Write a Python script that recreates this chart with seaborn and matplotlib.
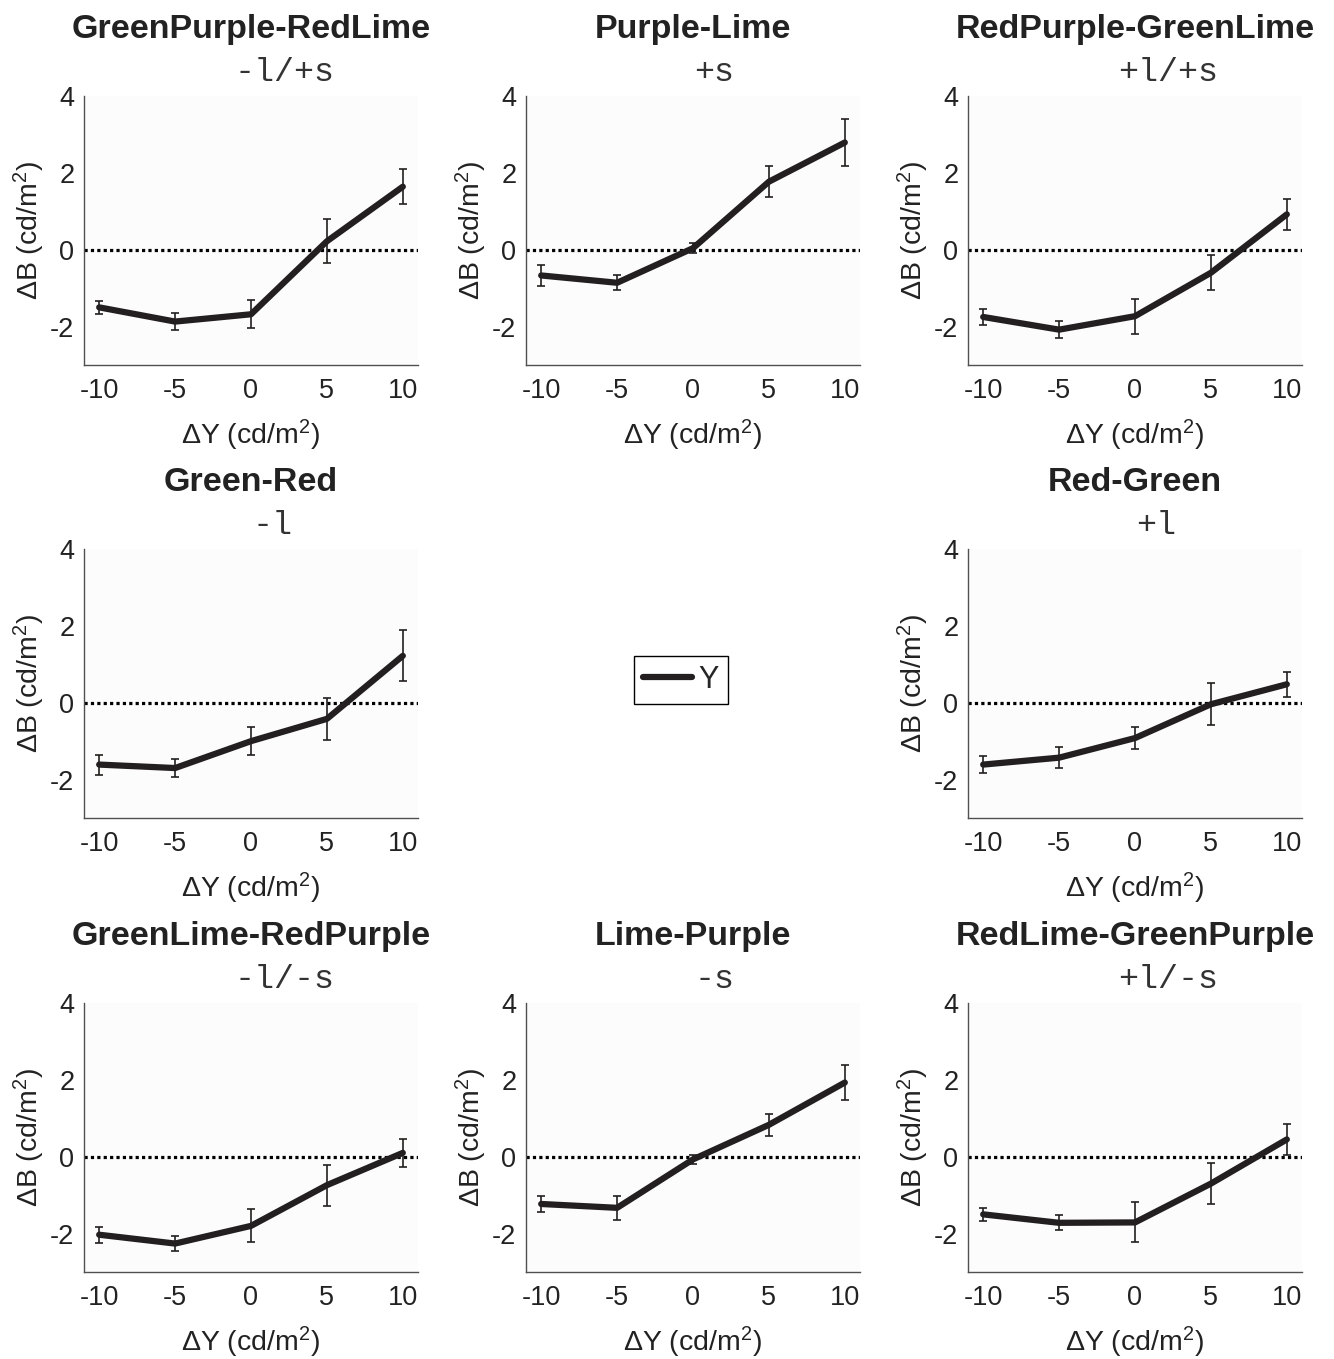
import matplotlib
matplotlib.use("Agg")
import matplotlib.pyplot as plt
import seaborn as sns
import pandas as pd

# luminance step (x axis) shared by all panels
dy_levels = [-10, -5, 0, 5, 10]

titles = ['GreenPurple-RedLime', 'Purple-Lime', 'RedPurple-GreenLime',
          'Green-Red', None, 'Red-Green',
          'GreenLime-RedPurple', 'Lime-Purple', 'RedLime-GreenPurple']
subtitles = ['-l/+s', '+s', '+l/+s',
             '-l', None, '+l',
             '-l/-s', '-s', '+l/-s']

# mean brightness match and error per panel
b_gp_rl = [-1.50, -1.87, -1.68, 0.22, 1.64]
e_gp_rl = [0.17, 0.22, 0.37, 0.57, 0.45]
b_p_l = [-0.67, -0.86, 0.04, 1.77, 2.79]
e_p_l = [0.27, 0.20, 0.13, 0.41, 0.60]
b_rp_gl = [-1.75, -2.08, -1.73, -0.60, 0.92]
e_rp_gl = [0.20, 0.22, 0.46, 0.46, 0.41]
b_g_r = [-1.61, -1.70, -1.00, -0.42, 1.22]
e_g_r = [0.26, 0.24, 0.37, 0.54, 0.66]
b_r_g = [-1.61, -1.43, -0.92, -0.04, 0.48]
e_r_g = [0.22, 0.27, 0.29, 0.55, 0.33]
b_gl_rp = [-2.03, -2.26, -1.80, -0.74, 0.10]
e_gl_rp = [0.21, 0.19, 0.43, 0.53, 0.36]
b_l_p = [-1.23, -1.33, -0.07, 0.83, 1.93]
e_l_p = [0.22, 0.32, 0.12, 0.29, 0.45]
b_rl_gp = [-1.50, -1.72, -1.71, -0.70, 0.45]
e_rl_gp = [0.16, 0.20, 0.52, 0.53, 0.40]

means = [b_gp_rl, b_p_l, b_rp_gl, b_g_r, None, b_r_g, b_gl_rp, b_l_p, b_rl_gp]
errs = [e_gp_rl, e_p_l, e_rp_gl, e_g_r, None, e_r_g, e_gl_rp, e_l_p, e_rl_gp]

sns.set_style("white")
plt.rcParams['font.family'] = ['Liberation Sans', 'DejaVu Sans']
plt.rcParams['mathtext.fontset'] = 'custom'
plt.rcParams['mathtext.rm'] = 'Liberation Sans'
plt.rcParams['mathtext.default'] = 'regular'
plt.rcParams['axes.unicode_minus'] = False

W, H = 1334, 1359
fig = plt.figure(figsize=(W / 100, H / 100), dpi=100)

col_left = [84, 526, 968]
row_top = [96, 549, 1003]
ax_w, ax_h = 334, 269
spine_col = '#505050'
line_col = '#231f20'
text_col = '#222222'

line_handle = None
for i in range(9):
    if means[i] is None:
        continue
    r, c = divmod(i, 3)
    ax = fig.add_axes([col_left[c] / W, 1 - (row_top[r] + ax_h) / H, ax_w / W, ax_h / H])
    ax.set_facecolor('#fcfcfc')
    df = pd.DataFrame({'dY': dy_levels, 'dB': means[i], 'err': errs[i]})

    ax.axhline(0, color='black', lw=2.3, ls=(0, (1.0, 1.0)), zorder=1)
    sns.lineplot(data=df, x='dY', y='dB', ax=ax, color=line_col, lw=4.5, zorder=3)
    if line_handle is None:
        line_handle = ax.get_lines()[-1]
    ax.errorbar(df['dY'], df['dB'], yerr=df['err'], fmt='none', ecolor=line_col,
                elinewidth=1.2, capsize=3, capthick=1.2, zorder=4)

    ax.set_xlim(-11, 11)
    ax.set_ylim(-3, 4)
    ax.set_xticks(dy_levels)
    ax.set_yticks([-2, 0, 2, 4])
    ax.set_xlabel('ΔY (cd/m$^{2}$)', fontsize=20.5, labelpad=9.5, color=text_col)
    ax.set_ylabel('ΔB (cd/m$^{2}$)', fontsize=20.5, labelpad=2, color=text_col)
    sns.despine(ax=ax)
    for s in ['left', 'bottom']:
        ax.spines[s].set_color(spine_col)
        ax.spines[s].set_linewidth(1.0)
    ax.tick_params(direction='in', length=4, width=0.9, color=spine_col,
                   labelsize=19.5, labelcolor=text_col)
    ax.tick_params(axis='x', pad=9.5)
    ax.tick_params(axis='y', pad=7)

    ax.annotate(titles[i], xy=(0.5, 1), xycoords='axes fraction',
                xytext=(0, 42), textcoords='offset points', ha='center',
                va='baseline', fontsize=24.5, fontweight='bold', color=text_col)
    off = 0.04 + 0.012 * len(subtitles[i])
    ax.annotate(subtitles[i], xy=(0.5 + off, 1), xycoords='axes fraction',
                xytext=(0, 11), textcoords='offset points', ha='center',
                va='baseline', fontsize=24, family='Liberation Mono', color='#333333')

leg = fig.legend([line_handle], ['Y'], loc='center',
                 bbox_to_anchor=(681 / W, 1 - 680 / H), fontsize=22,
                 frameon=True, fancybox=False, edgecolor='black', framealpha=1,
                 handlelength=1.6, handletextpad=0.2, borderpad=0.3,
                 borderaxespad=0)
leg.get_frame().set_linewidth(1.0)

fig.savefig('out.png', dpi=100)
